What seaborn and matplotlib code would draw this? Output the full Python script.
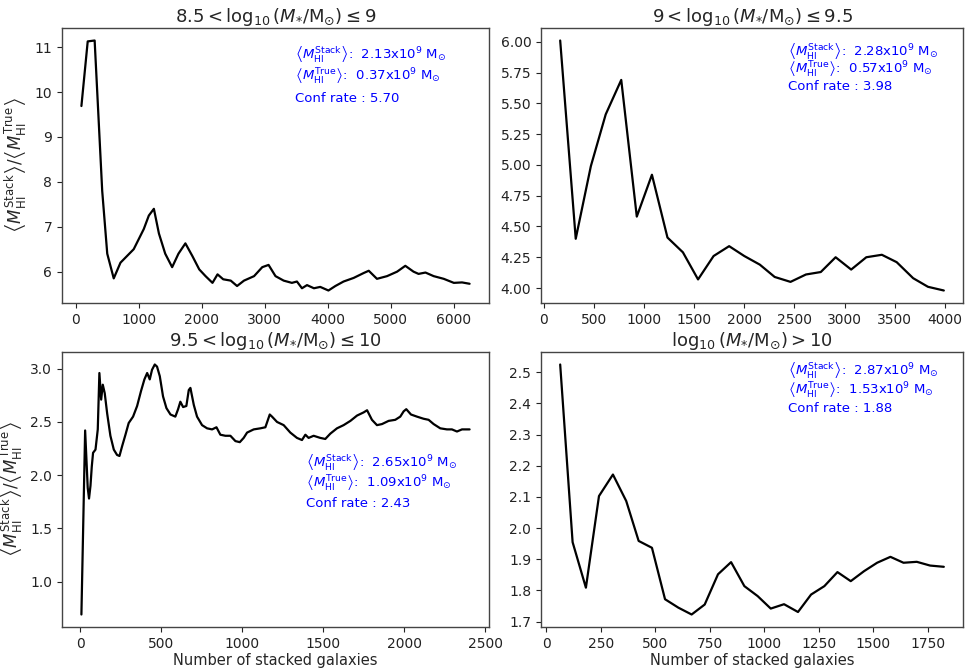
import numpy as np
import pandas as pd
import seaborn as sns
import matplotlib.pyplot as plt

# Stacked-to-true HI mass ratio versus number of stacked galaxies, per stellar-mass bin
n_bin1 = [90, 190, 300, 420, 500, 603, 710, 920, 1080, 1160, 1240, 1320, 1420, 1530, 1630,
          1740, 1850, 1960, 2060, 2170, 2250, 2340, 2460, 2560, 2670, 2830, 2960, 3060, 3170,
          3300, 3430, 3510, 3590, 3670, 3780, 3880, 4010, 4120, 4250, 4410, 4570, 4650, 4780,
          4940, 5100, 5230, 5360, 5440, 5550, 5680, 5840, 6000, 6130, 6250]
ratio_bin1 = [9.69, 11.13, 11.15, 7.8, 6.4, 5.85, 6.2, 6.5, 6.95, 7.25, 7.4, 6.85, 6.4, 6.1, 6.4,
              6.63, 6.35, 6.05, 5.9, 5.75, 5.94, 5.83, 5.8, 5.68, 5.8, 5.9, 6.1, 6.15, 5.9,
              5.8, 5.75, 5.78, 5.63, 5.7, 5.63, 5.66, 5.58, 5.68, 5.78, 5.86, 5.97, 6.02, 5.84,
              5.9, 6.0, 6.13, 6.0, 5.95, 5.98, 5.9, 5.84, 5.75, 5.76, 5.73]

n_bin2 = [164, 319, 470, 618, 773, 928, 1079, 1234, 1388, 1539, 1694, 1849, 2000, 2155, 2303,
          2461, 2615, 2763, 2911, 3066, 3217, 3372, 3520, 3684, 3832, 3990]
ratio_bin2 = [6.01, 4.40, 4.99, 5.41, 5.69, 4.58, 4.92, 4.41, 4.29, 4.07, 4.26, 4.34, 4.26, 4.19,
              4.09, 4.05, 4.11, 4.13, 4.25, 4.15, 4.25, 4.27, 4.21, 4.08, 4.01, 3.98]

n_bin3 = [6, 29, 45, 53, 62, 70, 78, 93, 107, 117, 128, 138, 150, 165, 185, 206, 226, 241, 257,
          278, 298, 325, 350, 374, 395, 412, 428, 442, 459, 473, 490, 510, 531, 556, 586, 603,
          617, 634, 654, 669, 679, 700, 720, 751, 782, 813, 840, 864, 895, 926, 957, 984, 1008,
          1029, 1070, 1111, 1142, 1169, 1183, 1214, 1255, 1296, 1337, 1368, 1389, 1409, 1440,
          1481, 1512, 1543, 1584, 1625, 1667, 1708, 1749, 1770, 1800, 1831, 1862, 1903, 1944,
          1975, 1996, 2012, 2041, 2078, 2119, 2150, 2181, 2222, 2263, 2294, 2325, 2356, 2403]
ratio_bin3 = [0.69, 2.42, 1.88, 1.78, 1.90, 2.08, 2.21, 2.24, 2.43, 2.96, 2.71, 2.85, 2.77, 2.58,
              2.37, 2.24, 2.19, 2.18, 2.27, 2.38, 2.49, 2.55, 2.65, 2.79, 2.90, 2.96, 2.90, 2.99,
              3.04, 3.02, 2.93, 2.74, 2.63, 2.57, 2.55, 2.62, 2.69, 2.64, 2.65, 2.80, 2.82, 2.66,
              2.55, 2.47, 2.44, 2.43, 2.45, 2.38, 2.37, 2.37, 2.32, 2.31, 2.35, 2.40, 2.43, 2.44,
              2.45, 2.57, 2.55, 2.50, 2.47, 2.40, 2.35, 2.33, 2.38, 2.35, 2.37, 2.35, 2.34, 2.39,
              2.44, 2.47, 2.51, 2.56, 2.59, 2.61, 2.52, 2.47, 2.48, 2.51, 2.52, 2.55, 2.60, 2.62,
              2.57, 2.55, 2.53, 2.52, 2.48, 2.44, 2.43, 2.43, 2.41, 2.43, 2.43]

n_bin4 = [64, 121, 182, 242, 306, 367, 424, 485, 545, 606, 667, 727, 788, 848, 909, 970, 1030,
          1091, 1155, 1215, 1276, 1336, 1397, 1458, 1518, 1579, 1639, 1700, 1761, 1824]
ratio_bin4 = [2.525, 1.955, 1.809, 2.103, 2.172, 2.087, 1.959, 1.937, 1.772, 1.745, 1.723, 1.755,
              1.852, 1.891, 1.814, 1.782, 1.742, 1.756, 1.731, 1.787, 1.814, 1.859, 1.830, 1.862,
              1.889, 1.908, 1.889, 1.892, 1.880, 1.876]

titles = [r"$8.5 < \log_{10}(M_{*}/\mathrm{M}_{\odot}) \leq 9$",
          r"$9 < \log_{10}(M_{*}/\mathrm{M}_{\odot}) \leq 9.5$",
          r"$9.5 < \log_{10}(M_{*}/\mathrm{M}_{\odot}) \leq 10$",
          r"$\log_{10}(M_{*}/\mathrm{M}_{\odot}) > 10$"]
stack_mass = ["2.13", "2.28", "2.65", "2.87"]
true_mass = ["0.37", "0.57", "1.09", "1.53"]
conf_rate = ["5.70", "3.98", "2.43", "1.88"]

series = [(n_bin1, ratio_bin1), (n_bin2, ratio_bin2), (n_bin3, ratio_bin3), (n_bin4, ratio_bin4)]

sns.set_style("ticks")
plt.rcParams["font.family"] = ["DejaVu Sans"]
plt.rcParams["mathtext.fontset"] = "dejavusans"

W, H = 967, 671
fig = plt.figure(figsize=(W / 100, H / 100), dpi=100)

def px_axes(l, t, r, b):
    return fig.add_axes([l / W, 1 - b / H, (r - l) / W, (b - t) / H])

axes = [px_axes(62, 28, 489, 303), px_axes(541, 28, 963, 303),
        px_axes(62, 352, 489, 627), px_axes(541, 352, 963, 627)]

# annotation anchor (axes fraction) and line spacing for each panel
text_pos = [(0.546, 0.905, 0.080), (0.585, 0.918, 0.066),
            (0.572, 0.60, 0.075), (0.585, 0.933, 0.070)]

ylabel = (r"$\left\langle M_{\mathrm{HI}}^{\mathrm{Stack}}\right\rangle/"
          r"\left\langle M_{\mathrm{HI}}^{\mathrm{True}}\right\rangle$")

for i, (ax, (n, r)) in enumerate(zip(axes, series)):
    df = pd.DataFrame({"n": n, "ratio": r})
    sns.lineplot(data=df, x="n", y="ratio", ax=ax, color="black", linewidth=1.6,
                 sort=False, estimator=None)
    ax.set_title(titles[i], fontsize=13, pad=4)
    ax.tick_params(labelsize=10, colors="#222222")
    for s in ax.spines.values():
        s.set_color("#444444")
        s.set_linewidth(1.0)
    ax.set_xlabel("Number of stacked galaxies" if i >= 2 else "", fontsize=10.5, labelpad=2)
    ax.set_ylabel(ylabel if i % 2 == 0 else "", fontsize=12)
    x0, y0, dy = text_pos[i]
    lines = [r"$\left\langle M_{\mathrm{HI}}^{\mathrm{Stack}}\right\rangle$:  " + stack_mass[i]
             + r"x$10^9$ M$_{\odot}$",
             r"$\left\langle M_{\mathrm{HI}}^{\mathrm{True}}\right\rangle$:  " + true_mass[i]
             + r"x$10^9$ M$_{\odot}$",
             "Conf rate : " + conf_rate[i]]
    for k, line in enumerate(lines):
        ax.text(x0, y0 - k * dy, line, transform=ax.transAxes, color="blue",
                fontsize=9.5, va="center", ha="left")

axes[2].set_xticks([0, 500, 1000, 1500, 2000, 2500])
axes[3].set_xticks([0, 250, 500, 750, 1000, 1250, 1500, 1750])

fig.savefig("out.png", dpi=100)
